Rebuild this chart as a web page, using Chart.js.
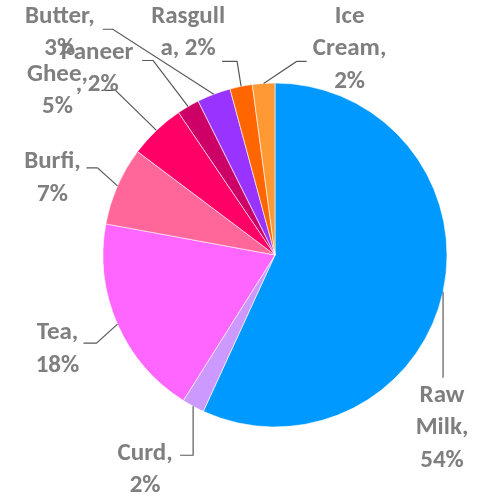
<!DOCTYPE html>
<html>
<head>
<meta charset="utf-8">
<script src="https://cdn.jsdelivr.net/npm/chart.js@4/dist/chart.umd.min.js"></script>
<style>
  html, body { margin: 0; padding: 0; background: #ffffff; }
  #wrap { width: 479px; height: 496px; position: relative; }
</style>
</head>
<body>
<div id="wrap"><canvas id="c" width="479" height="496"></canvas></div>
<script>
// ---- data ----
const categories = ['Raw Milk', 'Curd', 'Tea', 'Burfi', 'Ghee', 'Paneer', 'Butter', 'Rasgulla', 'Ice Cream'];
const values = [54, 2, 18, 7, 5, 2, 3, 2, 2];

// ---- style ----
const colors = ['#0099FF', '#CC99FF', '#FF66FF', '#FF6699', '#FF0066', '#CC0066', '#9933FF', '#FF6600', '#FF9933'];
// where each label text wraps (character indices)
const wrapAt = [[3, 9], [5], [4], [6], [5], [6], [7], [7], [3, 10]];
// leader line points relative to slice edge midpoint
const leaderPts = [
  [[0, 86]],
  [[0, 49], [-13, 49]],
  [[-21, 19], [-34, 19]],
  [[-20, -18], [-31, -18]],
  [[-41, -40], [-55, -40]],
  [[-35, -46], [-46, -46]],
  [[-101, -65], [-111, -65]],
  [[-4, -25], [-19, -25]],
  [[33, -22], [43, -22]]
];
// centre of first text line relative to slice edge midpoint
const textOff = [[-1, 104], [-48, 47], [-60, 9], [-65, -24], [-99, -56], [-91, -54], [-154, -78], [-53, -70], [86, -67]];
const lineH = 32.5;
const labelFont = 'bold 25px Carlito, Calibri, Lato, sans-serif';

function wrapText(s, idx) {
  const out = [];
  let p = 0;
  idx.forEach(i => { out.push(s.slice(p, i).trim()); p = i; });
  out.push(s.slice(p).trim());
  return out;
}

const outsideLabels = {
  id: 'outsideLabels',
  afterDatasetsDraw(chart) {
    const ctx = chart.ctx;
    const meta = chart.getDatasetMeta(0);
    ctx.save();
    meta.data.forEach((arc, i) => {
      const p = arc.getProps(['x', 'y', 'startAngle', 'endAngle', 'outerRadius'], true);
      const mid = (p.startAngle + p.endAngle) / 2;
      const ax = p.x + Math.cos(mid) * p.outerRadius;
      const ay = p.y + Math.sin(mid) * p.outerRadius;
      ctx.strokeStyle = '#595959';
      ctx.lineWidth = 1.2;
      ctx.beginPath();
      ctx.moveTo(ax, ay);
      leaderPts[i].forEach(([dx, dy]) => ctx.lineTo(ax + dx, ay + dy));
      ctx.stroke();
    });
    ctx.font = labelFont;
    ctx.fillStyle = '#7F7F7F';
    ctx.textAlign = 'center';
    ctx.textBaseline = 'middle';
    meta.data.forEach((arc, i) => {
      const p = arc.getProps(['x', 'y', 'startAngle', 'endAngle', 'outerRadius'], true);
      const mid = (p.startAngle + p.endAngle) / 2;
      const ax = p.x + Math.cos(mid) * p.outerRadius;
      const ay = p.y + Math.sin(mid) * p.outerRadius;
      const txt = categories[i] + ', ' + values[i] + '%';
      const lines = wrapText(txt, wrapAt[i]);
      lines.forEach((ln, k) => {
        ctx.fillText(ln, ax + textOff[i][0], ay + textOff[i][1] + k * lineH);
      });
    });
    ctx.restore();
  }
};

new Chart(document.getElementById('c'), {
  type: 'pie',
  data: {
    labels: categories,
    datasets: [{
      data: values,
      backgroundColor: colors,
      borderColor: '#ffffff',
      borderWidth: 0.6,
      hoverOffset: 0,
      offset: 0
    }]
  },
  options: {
    responsive: false,
    animation: false,
    events: [],
    radius: 172,
    layout: { padding: { left: 103, right: 32, top: 83, bottom: 69 } },
    plugins: {
      legend: { display: false },
      tooltip: { enabled: false },
      title: { display: false }
    }
  },
  plugins: [outsideLabels]
});
</script>
</body>
</html>
